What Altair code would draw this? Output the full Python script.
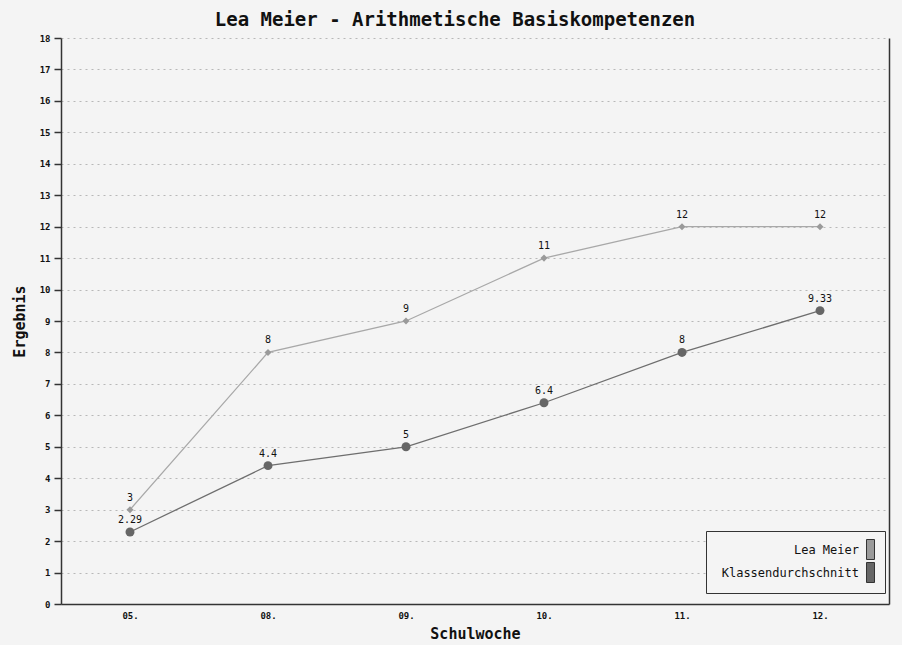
import altair as alt
import pandas as pd

weeks = ["05.", "08.", "09.", "10.", "11.", "12."]
lea = [3, 8, 9, 11, 12, 12]
klasse = [2.29, 4.4, 5, 6.4, 8, 9.33]
series = ["Lea Meier", "Klassendurchschnitt"]
point_colors = ["#9a9a9a", "#666666"]
line_colors = ["#a8a8a8", "#6e6e6e"]
y_ticks = list(range(0, 19))

rows = []
for s, vals in zip(series, [lea, klasse]):
    for w, v in zip(weeks, vals):
        rows.append({"Woche": w, "Ergebnis": v, "Serie": s})
df = pd.DataFrame(rows)

mono = "DejaVu Sans Mono"

x_enc = alt.X("Woche:N", sort=weeks,
              scale=alt.Scale(type="point", padding=0.5),
              axis=alt.Axis(title="Schulwoche", orient="bottom", ticks=False, grid=False,
                            labelAngle=0, labelFont=mono, labelFontSize=9, labelFontWeight="bold",
                            labelColor="#111", labelPadding=7, domainColor="#333", domainWidth=1.5,
                            titleFont=mono, titleFontSize=15, titleFontWeight="bold",
                            titleColor="#111", titlePadding=6))
x_plain = alt.X("Woche:N", sort=weeks)
y_scale = alt.Scale(domain=[0, 18], nice=False, zero=True)
y_left = alt.Y("Ergebnis:Q", scale=y_scale,
               axis=alt.Axis(orient="left", values=y_ticks, title="Ergebnis", tickSize=7,
                             tickColor="#333", tickWidth=1.5, domainColor="#333", domainWidth=1.5,
                             labelFont=mono, labelFontSize=9, labelFontWeight="bold",
                             labelColor="#111", labelPadding=4,
                             grid=True, gridColor="#b8b8b8", gridDash=[2, 4], gridWidth=1,
                             titleFont=mono, titleFontSize=15, titleFontWeight="bold",
                             titleColor="#111", titlePadding=12))
y_right = alt.Y("Ergebnis:Q", scale=y_scale,
                axis=alt.Axis(orient="right", labels=False, ticks=False, grid=False,
                              title=None, domainColor="#333", domainWidth=1.5))
y_plain = alt.Y("Ergebnis:Q", scale=y_scale, axis=None)

color_enc = alt.Color("Serie:N", sort=series,
                      scale=alt.Scale(domain=series, range=point_colors),
                      legend=alt.Legend(
                          title=None, orient="none", legendX=645, legendY=493,
                          fillColor="#f4f4f4", strokeColor="#333", padding=8,
                          symbolType="M-0.4,-1H0.4V1H-0.4Z", symbolSize=400,
                          symbolStrokeColor="#333", symbolStrokeWidth=1, symbolOpacity=1,
                          symbolOffset=146,
                          labelFont=mono, labelFontSize=12, labelColor="#111",
                          labelAlign="right", labelOffset={"expr": "-22"},
                          rowPadding={"expr": "-3"}))

base = alt.Chart(df)

line_lea = base.transform_filter(alt.datum.Serie == series[0]).mark_line(
    strokeWidth=1.3, color=line_colors[0]).encode(x=x_enc, y=y_left)
line_kl = base.transform_filter(alt.datum.Serie == series[1]).mark_line(
    strokeWidth=1.3, color=line_colors[1]).encode(x=x_plain, y=y_right)

pts_lea = base.transform_filter(alt.datum.Serie == series[0]).mark_point(
    shape="diamond", filled=True, size=50, opacity=1
).encode(x=x_plain, y=y_plain, color=color_enc)

pts_kl = base.transform_filter(alt.datum.Serie == series[1]).mark_point(
    shape="circle", filled=True, size=80, opacity=1
).encode(x=x_plain, y=y_plain, color=color_enc)

labels = base.mark_text(font=mono, fontSize=10, color="#111", dy=-12, baseline="middle").encode(
    x=x_plain, y=y_plain,
    text=alt.Text("Ergebnis:Q", format=".3~g"))

chart = alt.layer(line_lea, line_kl, pts_lea, pts_kl, labels).properties(
    width=828, height=566,
    background="#f4f4f4",
    padding={"left": 61, "top": 38, "right": 13, "bottom": 41},
    autosize=alt.AutoSizeParams(type="none"),
    title=alt.TitleParams("Lea Meier - Arithmetische Basiskompetenzen", font=mono, fontSize=19,
                          fontWeight="bold", color="#111", anchor="middle", dx=-20, offset=4),
).configure_view(stroke=None)

chart.save("out.html", embed_options={"renderer": "svg", "actions": False})
